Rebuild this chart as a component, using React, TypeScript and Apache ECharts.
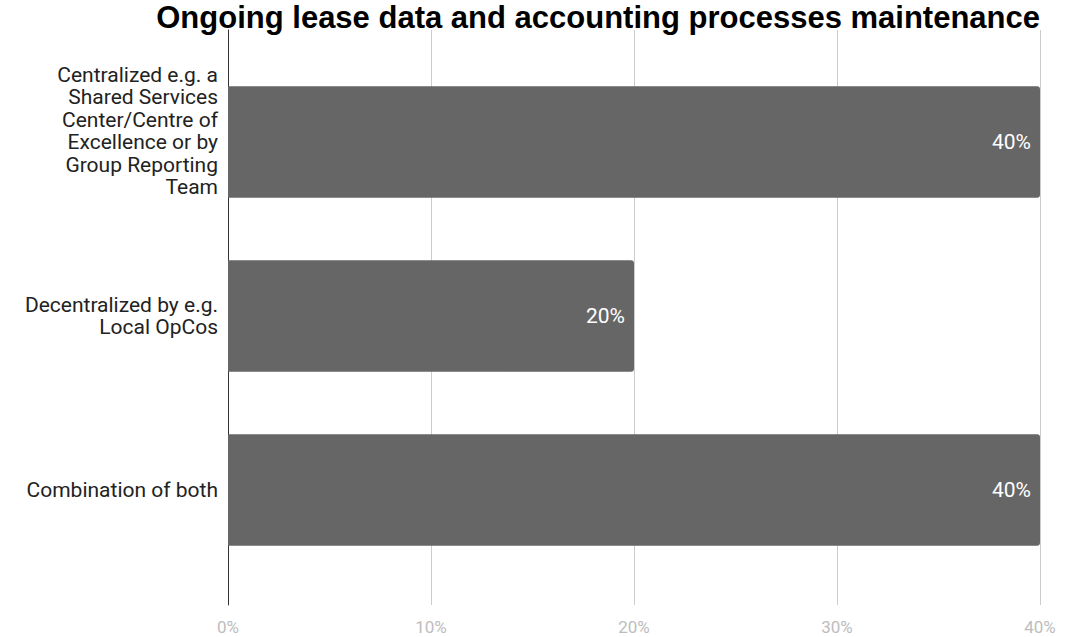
import React, { useEffect, useRef } from "react";
import * as echarts from "echarts";

const titleText = "Ongoing lease data and accounting processes maintenance";
const categories = [
  "Centralized e.g. a\nShared Services\nCenter/Centre of\nExcellence or by\nGroup Reporting\nTeam",
  "Decentralized by e.g.\nLocal OpCos",
  "Combination of both",
];
const values = [40, 20, 40];
const xMin = 0;
const xMax = 40;
const xInterval = 10;

export default function App() {
  const ref = useRef<HTMLDivElement>(null);
  useEffect(() => {
    if (!ref.current) return;
    const chart = echarts.init(ref.current, null, { renderer: "svg" });
    chart.setOption({
      animation: false,
      backgroundColor: "#ffffff",
      title: {
        text: titleText,
        right: 20,
        top: -3,
        textStyle: { fontFamily: "Liberation Sans", fontWeight: "bold", fontSize: 31, color: "#000" },
      },
      grid: [
        { left: 228, right: 25, top: 30, bottom: 32 },
        { left: 228, right: 25, top: 55, bottom: 60 },
      ],
      xAxis: [
        {
          gridIndex: 0,
          type: "value",
          min: xMin,
          max: xMax,
          interval: xInterval,
          axisLine: { show: false },
          axisTick: { show: false },
          splitLine: { show: true, lineStyle: { color: "#cccccc", width: 1 } },
          axisLabel: {
            formatter: "{value}%",
            color: "#bdbdbd",
            fontFamily: "Roboto",
            fontSize: 17,
            margin: 13,
          },
        },
        {
          gridIndex: 1,
          type: "value",
          min: xMin,
          max: xMax,
          interval: xInterval,
          show: false,
        },
      ],
      yAxis: [
        {
          gridIndex: 0,
          type: "value",
          min: 0,
          max: 1,
          axisLine: { show: true, lineStyle: { color: "#333333", width: 1 } },
          axisTick: { show: false },
          axisLabel: { show: false },
          splitLine: { show: false },
        },
        {
          gridIndex: 1,
          type: "category",
          data: categories,
          inverse: true,
          axisLine: { show: false },
          axisTick: { show: false },
          axisLabel: {
            color: "#222222",
            fontFamily: "Roboto",
            fontSize: 21,
            lineHeight: 22.5,
            margin: 10,
            align: "right",
            formatter: (v: string, i: number) => (i === 0 ? v + "\n " : v),
          },
        },
      ],
      series: [
        {
          type: "bar",
          xAxisIndex: 1,
          yAxisIndex: 1,
          data: values,
          barCategoryGap: "36%",
          itemStyle: { color: "#666666", borderRadius: [0, 3, 3, 0] },
          label: {
            show: true,
            position: "insideRight",
            distance: 9,
            formatter: "{c}%",
            color: "#ffffff",
            fontFamily: "Roboto",
            fontSize: 21,
          },
        },
      ],
    });
    return () => chart.dispose();
  }, []);
  return (
    <div
      ref={ref}
      style={{ position: "fixed", left: 0, top: 0, width: 1065, height: 637 }}
    />
  );
}
